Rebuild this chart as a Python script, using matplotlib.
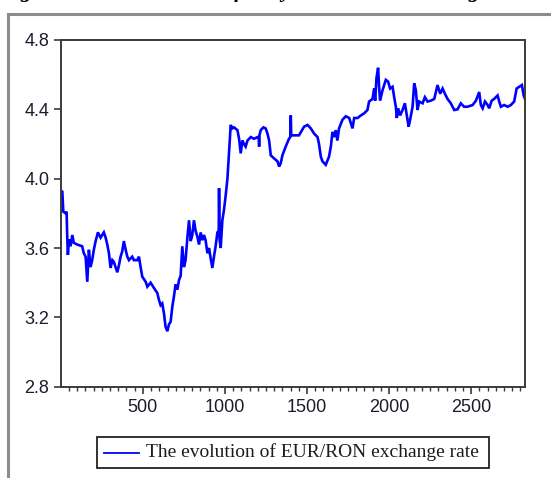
import numpy as np
import matplotlib
matplotlib.use('Agg')
import matplotlib.pyplot as plt
from matplotlib.ticker import MultipleLocator, FixedLocator
from matplotlib.lines import Line2D
from matplotlib.patches import Rectangle

# daily EUR/RON rate, sampled at the given observation numbers
days = [1, 9, 15, 29, 35, 39, 43, 49, 59, 70, 79, 100, 130, 140, 151, 161, 171,
        181, 191, 201, 212, 226, 242, 262, 273, 283, 293, 303, 314, 323, 344,
        354, 364, 374, 384, 395, 405, 415, 435, 445, 466, 476, 486, 496, 517,
        527, 547, 567, 588, 598, 608, 618, 628, 638, 649, 659, 669, 679, 689,
        699, 710, 720, 730, 740, 750, 760, 771, 781, 791, 801, 811, 821, 832,
        842, 852, 862, 872, 882, 893, 903, 913, 923, 933, 943, 954, 962, 964,
        967, 974, 984, 994, 1004, 1015, 1025, 1031, 1035, 1045, 1055, 1076,
        1086, 1096, 1106, 1116, 1126, 1137, 1157, 1177, 1198, 1206, 1208, 1210,
        1218, 1234, 1248, 1259, 1269, 1279, 1299, 1320, 1330, 1340, 1350, 1370,
        1390, 1398, 1401, 1404, 1411, 1431, 1451, 1482, 1503, 1523, 1543, 1564,
        1573, 1584, 1594, 1614, 1634, 1645, 1655, 1665, 1675, 1685, 1695, 1716,
        1736, 1757, 1777, 1787, 1808, 1828, 1848, 1868, 1878, 1899, 1909, 1915,
        1923, 1933, 1939, 1945, 1960, 1980, 1994, 2006, 2021, 2031, 2041, 2047,
        2055, 2067, 2082, 2096, 2108, 2119, 2128, 2143, 2153, 2163, 2173, 2183,
        2204, 2218, 2234, 2254, 2275, 2295, 2311, 2326, 2340, 2356, 2376, 2397,
        2417, 2437, 2457, 2478, 2509, 2529, 2549, 2559, 2570, 2584, 2600, 2610,
        2625, 2640, 2661, 2671, 2681, 2701, 2722, 2742, 2762, 2777, 2793, 2809,
        2820, 2828]
rate = [3.93, 3.925, 3.81, 3.80, 3.81, 3.665, 3.56, 3.65, 3.61, 3.675, 3.63,
        3.62, 3.61, 3.57, 3.55, 3.405, 3.59, 3.49, 3.53, 3.59, 3.64, 3.69, 3.66,
        3.69, 3.66, 3.62, 3.57, 3.485, 3.53, 3.52, 3.46, 3.50, 3.55, 3.58, 3.64,
        3.59, 3.55, 3.53, 3.55, 3.53, 3.53, 3.55, 3.49, 3.435, 3.405, 3.377,
        3.40, 3.37, 3.34, 3.30, 3.27, 3.28, 3.225, 3.146, 3.12, 3.16, 3.175,
        3.26, 3.32, 3.39, 3.36, 3.415, 3.44, 3.61, 3.49, 3.53, 3.66, 3.76, 3.64,
        3.675, 3.76, 3.70, 3.665, 3.62, 3.69, 3.645, 3.675, 3.645, 3.57, 3.60,
        3.54, 3.485, 3.55, 3.61, 3.69, 3.70, 3.945, 3.65, 3.60, 3.76, 3.82,
        3.90, 4.00, 4.15, 4.23, 4.31, 4.29, 4.296, 4.28, 4.23, 4.146, 4.22,
        4.20, 4.185, 4.22, 4.24, 4.23, 4.24, 4.24, 4.185, 4.25, 4.28, 4.296,
        4.29, 4.26, 4.22, 4.135, 4.117, 4.10, 4.07, 4.09, 4.135, 4.185, 4.23,
        4.24, 4.365, 4.25, 4.25, 4.25, 4.25, 4.30, 4.31, 4.29, 4.26, 4.24,
        4.20, 4.127, 4.10, 4.08, 4.127, 4.185, 4.27, 4.24, 4.28, 4.22, 4.29,
        4.34, 4.36, 4.35, 4.29, 4.35, 4.35, 4.365, 4.377, 4.396, 4.445, 4.46,
        4.52, 4.45, 4.58, 4.64, 4.53, 4.45, 4.51, 4.57, 4.56, 4.52, 4.53, 4.47,
        4.415, 4.35, 4.406, 4.365, 4.396, 4.435, 4.365, 4.30, 4.34, 4.415,
        4.55, 4.51, 4.396, 4.445, 4.435, 4.47, 4.445, 4.45, 4.46, 4.54, 4.49,
        4.52, 4.49, 4.46, 4.435, 4.396, 4.40, 4.435, 4.415, 4.415, 4.425,
        4.45, 4.50, 4.425, 4.406, 4.445, 4.425, 4.406, 4.45, 4.46, 4.48,
        4.445, 4.415, 4.425, 4.415, 4.425, 4.445, 4.52, 4.53, 4.54, 4.48, 4.46]

x_ticks = [500, 1000, 1500, 2000, 2500]
y_ticks = [2.8, 3.2, 3.6, 4.0, 4.4, 4.8]
legend_label = 'The evolution of EUR/RON exchange rate'
caption = 'Figure 3. The evolution of daily EUR/RON exchange rate'

W, H = 551, 478
fig = plt.figure(figsize=(W / 100, H / 100), dpi=100)
fig.patch.set_facecolor('white')

# outer grey frame (only top and left visible)
fig.add_artist(Line2D([8 / W, 8 / W], [0, 1 - 14 / H], color='#8c8c8c',
                      lw=2.2, transform=fig.transFigure))
fig.add_artist(Line2D([8 / W, 1], [1 - 14 / H, 1 - 14 / H], color='#8c8c8c',
                      lw=2.2, transform=fig.transFigure))

# caption sitting on the top edge, only its descenders show
fig.text(0 / W, 1 + 3 / H, caption, fontsize=16, fontweight='bold',
         fontstyle='italic', family='Liberation Serif', va='baseline',
         ha='left', color='black')

ax = fig.add_axes([61 / W, 1 - 386.7 / H, (525 - 61) / W, (386.7 - 40) / H])
ax.plot(days, rate, color='#0000ff', lw=1.9, solid_joinstyle='miter')

ax.set_xlim(1, 2828)
ax.set_ylim(2.8, 4.8)
ax.xaxis.set_major_locator(FixedLocator(x_ticks))
ax.xaxis.set_minor_locator(MultipleLocator(50))
ax.yaxis.set_major_locator(FixedLocator(y_ticks))
ax.set_yticklabels(['%.1f' % v for v in y_ticks])

for s in ax.spines.values():
    s.set_color('#3a3a3a')
    s.set_linewidth(1.4)
ax.tick_params(which='major', direction='out', length=5, width=1.2,
               color='#3a3a3a', labelsize=13, labelcolor='#1c1c2c',
               top=False, right=False)
ax.tick_params(which='minor', direction='out', length=3, width=1.0,
               color='#3a3a3a', top=False, right=False)
for lab in ax.get_xticklabels() + ax.get_yticklabels():
    lab.set_family('Liberation Sans')

# legend box below the plot
fig.add_artist(Rectangle((97 / W, 1 - 468 / H), (489 - 97) / W, (468 - 437) / H,
                         transform=fig.transFigure, facecolor='white',
                         edgecolor='#222222', lw=1.3))
fig.add_artist(Line2D([104 / W, 139 / W], [1 - 452.5 / H, 1 - 452.5 / H],
                      color='#0000ff', lw=1.3, transform=fig.transFigure))
fig.text(146 / W, 1 - 452.5 / H, legend_label, fontsize=14,
         family='Liberation Serif', va='center', ha='left', color='#1c1c1c')

fig.savefig('out.png', dpi=100)
